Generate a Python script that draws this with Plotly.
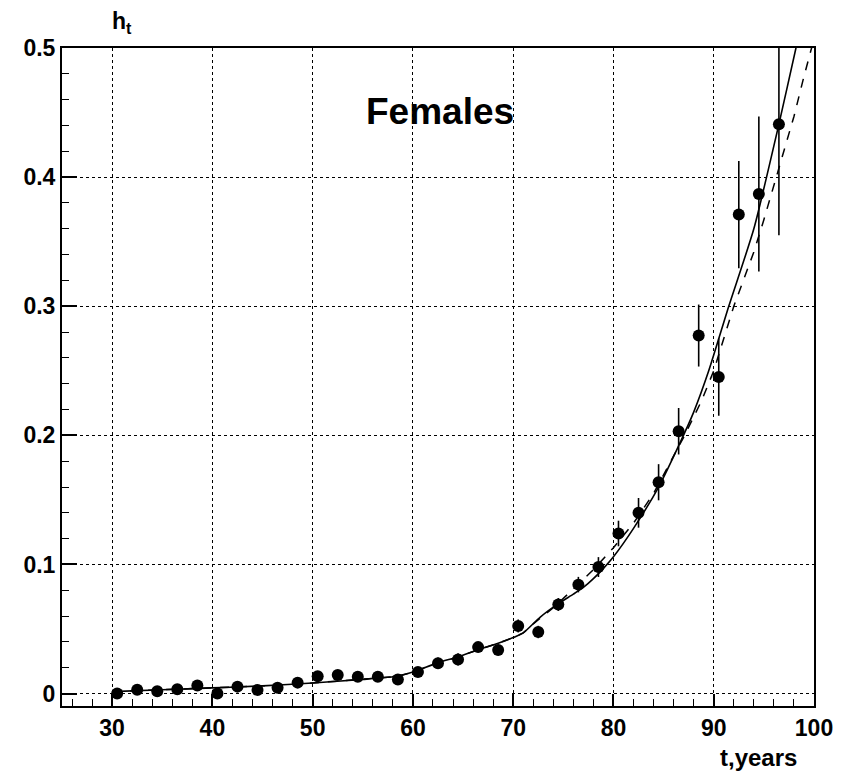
import plotly.graph_objects as go

# ---- data ----
age = [30.5, 32.5, 34.5, 36.5, 38.5, 40.5, 42.5, 44.5, 46.5, 48.5,
       50.5, 52.5, 54.5, 56.5, 58.5, 60.5, 62.5, 64.5, 66.5, 68.5,
       70.5, 72.5, 74.5, 76.5, 78.5, 80.5, 82.5, 84.5, 86.5, 88.5,
       90.5, 92.5, 94.5, 96.5]
hazard = [0.0000, 0.0030, 0.0018, 0.0033, 0.0062, 0.0000, 0.0054, 0.0028, 0.0046, 0.0085,
          0.0134, 0.0144, 0.0131, 0.0131, 0.0110, 0.0167, 0.0235, 0.0265, 0.0360, 0.0338,
          0.0524, 0.0477, 0.0690, 0.0844, 0.0980, 0.1240, 0.1400, 0.1637, 0.2032, 0.2773,
          0.2452, 0.3710, 0.3870, 0.4410]
hazard_err = [0.0010, 0.0015, 0.0012, 0.0017, 0.0023, 0.0010, 0.0022, 0.0017, 0.0021, 0.0029,
              0.0035, 0.0036, 0.0035, 0.0035, 0.0033, 0.0040, 0.0045, 0.0047, 0.0040, 0.0040,
              0.0050, 0.0048, 0.0050, 0.0060, 0.0077, 0.0099, 0.0115, 0.0140, 0.0180, 0.0240,
              0.0300, 0.0415, 0.0600, 0.0860]

fit_solid_t = [30, 35, 40, 45, 50, 55, 58, 59, 60, 62.5, 64.5, 66.5, 68.5, 70, 71,
               72.7, 74.5, 76.0, 77.0, 78.0, 79.0, 80.0, 82, 84.5, 86.6, 88.0, 89.5,
               91.5, 94, 96.5, 98.2, 100]
fit_solid_h = [0.0015, 0.0030, 0.0044, 0.0060, 0.0082, 0.0110, 0.0130, 0.0145, 0.0167,
               0.0240, 0.0284, 0.0340, 0.0390, 0.0434, 0.0470, 0.0593, 0.0697, 0.0770,
               0.0822, 0.0890, 0.0970, 0.1060, 0.1280, 0.1600, 0.1936, 0.2180, 0.2500,
               0.3000, 0.3600, 0.4410, 0.5000, 0.5610]

fit_dashed_t = [30, 35, 40, 45, 50, 55, 58, 59, 60, 62.5, 64.5, 66.5, 68.5, 70, 71,
                72, 74, 76, 78, 80, 82, 84, 86, 87.1, 88.8, 90, 92, 94, 95, 96, 97,
                98, 99, 100]
fit_dashed_h = [0.0015, 0.0030, 0.0044, 0.0060, 0.0082, 0.0110, 0.0130, 0.0145, 0.0167,
                0.0240, 0.0284, 0.0340, 0.0390, 0.0434, 0.0470, 0.0540, 0.0665, 0.0810,
                0.0960, 0.1130, 0.1320, 0.1550, 0.1840, 0.2000, 0.2270, 0.2500, 0.3000,
                0.3420, 0.3670, 0.3930, 0.4200, 0.4470, 0.4780, 0.5070]

x_ticks = [30, 40, 50, 60, 70, 80, 90, 100]
y_ticks = [0, 0.1, 0.2, 0.3, 0.4, 0.5]
y_tick_text = ["0", "0.1", "0.2", "0.3", "0.4", "0.5"]

FONT = "Liberation Sans, Arial, Helvetica, sans-serif"

fig = go.Figure()

fig.add_trace(go.Scatter(
    x=fit_dashed_t, y=fit_dashed_h, mode="lines",
    line=dict(color="black", width=1.5, dash="dash"),
    showlegend=False, hoverinfo="skip"))

fig.add_trace(go.Scatter(
    x=fit_solid_t, y=fit_solid_h, mode="lines", line_shape="spline",
    line=dict(color="black", width=1.6, smoothing=0.6),
    showlegend=False, hoverinfo="skip"))

fig.add_trace(go.Scatter(
    x=age, y=hazard, mode="markers",
    marker=dict(symbol="circle", size=12, color="black"),
    error_y=dict(type="data", array=hazard_err, visible=True,
                 color="black", thickness=1.6, width=0),
    showlegend=False, cliponaxis=True))

axis_common = dict(
    showline=True, linecolor="black", linewidth=2, mirror=True,
    ticks="inside", tickcolor="black", tickwidth=1.5,
    showgrid=True, gridcolor="black", gridwidth=1, griddash="dot",
    zeroline=False,
    tickfont=dict(family=FONT, size=23, color="black", weight="bold"),
)

fig.update_xaxes(
    range=[25, 100], tickvals=x_ticks, ticktext=[str(v) for v in x_ticks],
    ticklen=12,
    minor=dict(dtick=2, tick0=0, ticks="inside", ticklen=7,
               tickcolor="black", tickwidth=1.2, showgrid=False),
    **axis_common)

fig.update_yaxes(
    range=[-0.0096, 0.5], tickvals=y_ticks, ticktext=y_tick_text,
    ticklen=15,
    minor=dict(dtick=0.02, tick0=0, ticks="inside", ticklen=7,
               tickcolor="black", tickwidth=1.2, showgrid=False),
    **axis_common)

fig.add_annotation(
    x=62.7, y=0.4505, xref="x", yref="y", text="<b>Females</b>",
    showarrow=False, font=dict(family=FONT, size=37, color="black"),
    xanchor="center", yanchor="middle")

fig.add_annotation(
    x=0.064, y=1.013, xref="paper", yref="paper", text="<b>h<sub>t</sub></b>",
    showarrow=False, font=dict(family=FONT, size=23, color="black"),
    xanchor="left", yanchor="bottom")

fig.add_annotation(
    x=0.98, y=-0.1015, xref="paper", yref="paper", text="<b>t,years</b>",
    showarrow=False, font=dict(family=FONT, size=24, color="black"),
    xanchor="right", yanchor="bottom")

fig.update_layout(
    width=847, height=775,
    margin=dict(l=62, r=33, t=48, b=69),
    paper_bgcolor="white", plot_bgcolor="white",
    showlegend=False,
)

fig.write_html("out.html")
